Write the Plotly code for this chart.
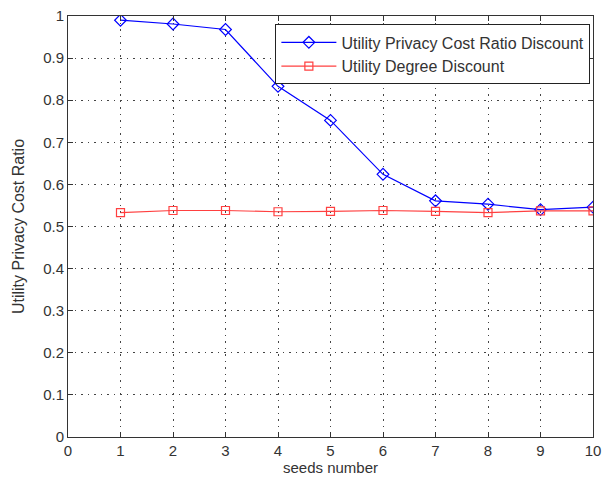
import plotly.graph_objects as go

seeds = [1, 2, 3, 4, 5, 6, 7, 8, 9, 10]
upcr_discount = [0.990, 0.981, 0.968, 0.833, 0.752, 0.624, 0.561, 0.553, 0.540, 0.546]
degree_discount = [0.533, 0.538, 0.538, 0.535, 0.536, 0.538, 0.536, 0.533, 0.537, 0.537]
x_ticks = list(range(0, 11))
y_ticks = [round(0.1 * i, 1) for i in range(0, 11)]
y_tick_text = ["0", "0.1", "0.2", "0.3", "0.4", "0.5", "0.6", "0.7", "0.8", "0.9", "1"]

FONT = "Liberation Sans Narrow, Arial Narrow, Liberation Sans, Arial, sans-serif"

fig = go.Figure()
fig.add_trace(go.Scatter(
    x=seeds, y=upcr_discount, mode="lines+markers",
    name="Utility Privacy Cost Ratio Discount",
    line=dict(color="#0000ff", width=1.2),
    marker=dict(symbol="diamond-open", size=9, color="#0000ff", line=dict(width=1.2)),
))
fig.add_trace(go.Scatter(
    x=seeds, y=degree_discount, mode="lines+markers",
    name="Utility Degree Discount",
    line=dict(color="#ff4040", width=1.2),
    marker=dict(symbol="square-open", size=8, color="#ff4040", line=dict(width=1.2)),
))

axis_common = dict(
    showline=True, linecolor="#333333", linewidth=1, mirror="ticks",
    ticks="inside", ticklen=5, tickcolor="#333333",
    showgrid=True, gridcolor="#444444", griddash="1.5px,5px", gridwidth=1.2,
    zeroline=False, tickfont=dict(family=FONT, size=15, color="#333333"),
    ticklabeloverflow="allow",
)

fig.update_layout(
    width=606, height=480,
    margin=dict(l=68, r=5, t=16, b=43),
    paper_bgcolor="white", plot_bgcolor="white",
    font=dict(family=FONT, size=15, color="#333333"),
    xaxis=dict(range=[0, 10], tickvals=x_ticks,
               title=dict(text="seeds number", font=dict(family=FONT, size=15), standoff=4),
               **axis_common),
    yaxis=dict(range=[0, 1], tickvals=y_ticks, ticktext=y_tick_text,
               title=dict(text="Utility Privacy Cost Ratio", font=dict(family=FONT, size=16), standoff=14),
               **axis_common),
    legend=dict(x=0.395, y=0.98, xanchor="left", yanchor="top",
                bgcolor="white", bordercolor="#222222", borderwidth=1,
                font=dict(family=FONT, size=16, color="#333333"),
                tracegroupgap=0, itemwidth=55),
    showlegend=True,
)

fig.write_html("out.html")
